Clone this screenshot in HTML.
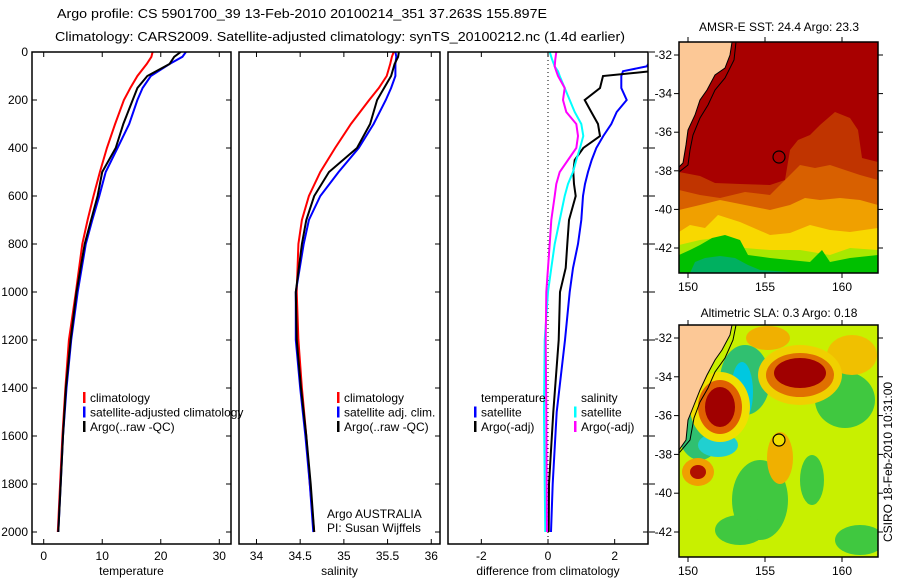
<!DOCTYPE html>
<html><head><meta charset="utf-8"><style>
html,body{margin:0;padding:0;background:#fff;}
svg{display:block;font-family:"Liberation Sans",sans-serif;}
</style></head><body>
<svg id="fig" width="900" height="580" viewBox="0 0 900 580" xmlns="http://www.w3.org/2000/svg">
<text x="302" y="18" font-size="13" text-anchor="middle" textLength="490" lengthAdjust="spacingAndGlyphs">Argo profile: CS 5901700_39 13-Feb-2010 20100214_351 37.263S 155.897E</text>
<text x="340" y="41" font-size="13" text-anchor="middle" textLength="570" lengthAdjust="spacingAndGlyphs">Climatology: CARS2009. Satellite-adjusted climatology: synTS_20100212.nc (1.4d earlier)</text>
<g id="panels"></g>

<!-- SST map -->
<text x="779" y="31" font-size="12" text-anchor="middle">AMSR-E SST: 24.4 Argo: 23.3</text>
<defs>
<clipPath id="cm1"><rect x="679" y="42" width="199" height="231"/></clipPath>
<clipPath id="cm2"><rect x="679" y="325" width="199" height="232"/></clipPath>
</defs>
<g clip-path="url(#cm1)">
<rect x="679" y="42" width="199" height="231" fill="#a80000"/>
<path d="M679,172 L700,176 L715,183 L740,184 L770,185 L785,180 L790,150 L798,140 L810,135 L820,125 L835,112 L850,118 L858,130 L862,158 L878,162 L878,273 L679,273Z" fill="#c03400"/>
<path d="M679,190 L700,195 L720,198 L745,192 L770,195 L790,175 L800,165 L815,168 L830,165 L845,170 L860,175 L878,180 L878,273 L679,273Z" fill="#d86000"/>
<path d="M679,210 L700,205 L720,200 L745,205 L770,210 L790,205 L805,198 L820,200 L840,198 L860,200 L878,205 L878,273 L679,273Z" fill="#f0a000"/>
<path d="M679,232 L690,225 L705,228 L718,215 L740,222 L770,235 L790,233 L810,225 L830,230 L850,232 L878,228 L878,273 L679,273Z" fill="#f8d800"/>
<path d="M679,245 L700,240 L715,238 L730,240 L745,248 L770,250 L800,250 L830,255 L850,248 L878,250 L878,273 L679,273Z" fill="#a8e800"/>
<path d="M679,255 L690,250 L700,245 L712,238 L725,235 L740,240 L748,255 L770,258 L790,260 L810,262 L822,250 L830,262 L850,258 L878,255 L878,273 L679,273Z" fill="#00c000"/>
<path d="M690,273 L695,262 L705,258 L720,256 L735,258 L748,265 L760,270 L790,272 L790,273Z" fill="#00b060"/>
<path d="M679,42 L732,42 L730,55 L725,68 L715,75 L707,90 L700,100 L695,115 L688,130 L686,145 L683,163 L679,167Z" fill="#fcc896" stroke="#000" stroke-width="1"/>
<path d="M736,42 L734,60 L725,78 L715,90 L708,105 L700,118 L693,135 L690,150 L688,165 L679,172" fill="none" stroke="#000" stroke-width="1"/>
<circle cx="779" cy="157" r="6" fill="none" stroke="#000" stroke-width="1.2"/>
</g>
<rect x="679" y="42" width="199" height="231" fill="none" stroke="#000" stroke-width="1.5"/>
<g id="map1axes"></g>

<!-- SLA map -->
<text x="779" y="317" font-size="12" text-anchor="middle">Altimetric SLA: 0.3 Argo: 0.18</text>
<g clip-path="url(#cm2)">
<rect x="679" y="325" width="199" height="232" fill="#c8f000"/>
<ellipse cx="845" cy="400" rx="30" ry="28" fill="#40c840"/>
<ellipse cx="760" cy="500" rx="28" ry="40" fill="#40c840"/>
<ellipse cx="740" cy="530" rx="25" ry="15" fill="#40c840"/>
<ellipse cx="812" cy="480" rx="12" ry="25" fill="#40c840"/>
<ellipse cx="860" cy="540" rx="25" ry="15" fill="#40c840"/>
<ellipse cx="700" cy="430" rx="22" ry="30" fill="#30c070"/>
<ellipse cx="745" cy="380" rx="25" ry="35" fill="#30c070"/>
<ellipse cx="742" cy="392" rx="11" ry="30" fill="#00c8e0"/>
<ellipse cx="718" cy="445" rx="20" ry="12" fill="#20d0d0"/>
<ellipse cx="768" cy="338" rx="22" ry="12" fill="#f0b000"/>
<ellipse cx="852" cy="355" rx="25" ry="20" fill="#f0c000"/>
<ellipse cx="800" cy="375" rx="42" ry="30" fill="#f0d000"/>
<ellipse cx="800" cy="375" rx="34" ry="22" fill="#e07000"/>
<ellipse cx="800" cy="373" rx="26" ry="15" fill="#a00000"/>
<ellipse cx="720" cy="407" rx="30" ry="35" fill="#f0e000"/>
<ellipse cx="720" cy="407" rx="22" ry="27" fill="#e06000"/>
<ellipse cx="720" cy="407" rx="15" ry="20" fill="#a00000"/>
<ellipse cx="780" cy="458" rx="13" ry="26" fill="#f0b000"/>
<ellipse cx="698" cy="472" rx="16" ry="14" fill="#f0a000"/>
<ellipse cx="698" cy="472" rx="8" ry="7" fill="#b01000"/>
<path d="M679,325 L732,325 L730,335 L722,350 L715,360 L707,375 L700,390 L694,405 L688,420 L686,440 L679,450Z" fill="#fcc896" stroke="#000" stroke-width="1"/>
<path d="M736,325 L733,340 L725,358 L715,372 L708,388 L700,402 L694,418 L690,440 L679,453" fill="none" stroke="#000" stroke-width="1"/>
<circle cx="779" cy="440" r="6" fill="#f0e000" stroke="#000" stroke-width="1.2"/>
</g>
<rect x="679" y="325" width="199" height="232" fill="none" stroke="#000" stroke-width="1.5"/>
<g id="map2axes"></g>
<text transform="translate(892,462) rotate(-90)" font-size="12" text-anchor="middle">CSIRO 18-Feb-2010 10:31:00</text>
</svg>
<script>
// ---- data (depth in m, value) ----
const depths=[0,20,50,100,150,200,300,400,500,600,700,800,1000,1200,1400,1600,1800,2000];
const tempClim=[18.6,18.4,17.6,16.0,14.8,13.7,12.2,10.8,9.6,8.5,7.5,6.6,5.5,4.3,3.7,3.2,2.8,2.4];
const tempSat=[24.3,23.7,21.5,18.3,16.9,16.0,14.6,12.6,10.6,9.5,8.3,7.2,5.8,4.7,3.9,3.3,2.9,2.5];
const tempArgo=[23.4,22.3,21.5,17.7,16.0,15.2,13.6,12.3,10.0,9.2,8.1,7.0,5.6,4.6,3.8,3.3,2.9,2.5];
const salClim=[35.57,35.55,35.53,35.49,35.40,35.29,35.08,34.90,34.73,34.60,34.52,34.48,34.46,34.48,34.52,34.57,34.61,34.66];
const salSat=[35.59,35.60,35.59,35.59,35.54,35.48,35.34,35.17,34.94,34.73,34.60,34.54,34.45,34.45,34.50,34.56,34.61,34.65];
const salArgo=[35.63,35.62,35.58,35.54,35.46,35.38,35.30,35.15,34.83,34.66,34.57,34.52,34.45,34.46,34.51,34.57,34.62,34.66];
const diffDepths=[0,30,60,80,100,150,200,250,300,350,400,450,500,550,600,700,800,900,1000,1200,1500,1800,2000];
const dTempSat=[3.2,3.1,2.96,2.25,2.2,2.2,2.36,2.06,1.9,1.66,1.45,1.31,1.2,1.11,1.05,1.0,0.9,0.75,0.65,0.51,0.26,0.14,0.09];
const dTempArgo=[3.2,3.2,3.1,3.1,1.65,1.56,1.1,1.3,1.5,1.56,1.06,0.8,0.76,0.78,0.83,0.63,0.58,0.53,0.36,0.32,0.16,0.03,0.02];
const dSalSat=[0.05,0.12,0.2,0.3,0.35,0.5,0.65,0.8,1.0,1.06,0.96,0.85,0.75,0.6,0.5,0.35,0.2,0.1,0.0,-0.1,-0.12,-0.1,-0.08];
const dSalArgo=[0.25,0.22,0.2,0.25,0.3,0.5,0.45,0.55,0.85,0.9,0.85,0.6,0.35,0.25,0.2,0.1,0.05,0.0,-0.05,-0.07,-0.05,-0.04,-0.03];
const depthTicks=[0,200,400,600,800,1000,1200,1400,1600,1800,2000];
const tempTicks=[0,10,20,30];
const salTicks=[34,34.5,35,35.5,36];
const diffTicks=[-2,0,2];
const lonTicks=[150,155,160];
const latTicks=[-32,-34,-36,-38,-40,-42];

const NS='http://www.w3.org/2000/svg';
const TOP=52,BOT=544,DMAX=2050;
function yD(d){return TOP+d*(BOT-TOP)/DMAX;}
function mk(tag,attrs,parent){const e=document.createElementNS(NS,tag);for(const k in attrs)e.setAttribute(k,attrs[k]);parent.appendChild(e);return e;}
const root=document.getElementById('panels');

function panel(name,x0,x1,vmin,vmax,ticks,fmt,xlabel,series,yLabels,zeroLine){
  const g=mk('g',{},root);
  
  
  const xs=v=>x0+(v-vmin)*(x1-x0)/(vmax-vmin);
  const cp=mk('clipPath',{id:'cp-'+name},g);mk('rect',{x:x0,y:TOP,width:x1-x0,height:BOT-TOP},cp);
  const lg=mk('g',{'clip-path':'url(#cp-'+name+')'},g);
  if(zeroLine){const z=mk('line',{x1:xs(0),x2:xs(0),y1:TOP,y2:BOT,stroke:'#000','stroke-width':1,'stroke-dasharray':'1,3'},lg);
    
    }
  series.forEach(s=>{
    const pts=s.vals.map((v,i)=>xs(v).toFixed(1)+','+yD(s.d[i]).toFixed(1)).join(' ');
    const p=mk('polyline',{points:pts,fill:'none',stroke:s.color,'stroke-width':2},lg);
    
    
  });
  const fr=mk('rect',{x:x0,y:TOP,width:x1-x0,height:BOT-TOP,fill:'none',stroke:'#000','stroke-width':1.5},g);
  
  
  ticks.forEach(t=>{
    const x=xs(t);
    mk('line',{x1:x,x2:x,y1:TOP,y2:TOP+5,stroke:'#000'},g);
    mk('line',{x1:x,x2:x,y1:BOT,y2:BOT-5,stroke:'#000'},g);
    const tx=mk('text',{x:x,y:BOT+16,'font-size':12,'text-anchor':'middle'},g);tx.textContent=fmt(t);
    
    
  });
  depthTicks.forEach(d=>{
    const y=yD(d);
    mk('line',{x1:x1,x2:x1-5,y1:y,y2:y,stroke:'#000'},g);
    if(yLabels){mk('line',{x1:x0,x2:x0+5,y1:y,y2:y,stroke:'#000'},g);
      const t=mk('text',{x:x0-4,y:y+4,'font-size':12,'text-anchor':'end'},g);t.textContent=d;
      
      }
  });
  const xl=mk('text',{x:(x0+x1)/2,y:BOT+31,'font-size':12,'text-anchor':'middle'},g);xl.textContent=xlabel;
  
  
}
panel('temperature',32,231,-2,32,tempTicks,t=>t,'temperature',[
 {name:'temp-climatology-line',vals:tempClim,d:depths,color:'#f00'},
 {name:'temp-satellite-line',vals:tempSat,d:depths,color:'#00f'},
 {name:'temp-argo-line',vals:tempArgo,d:depths,color:'#000'}],true,false);
panel('salinity',239,440,33.8,36.1,salTicks,t=>t,'salinity',[
 {name:'sal-climatology-line',vals:salClim,d:depths,color:'#f00'},
 {name:'sal-satellite-line',vals:salSat,d:depths,color:'#00f'},
 {name:'sal-argo-line',vals:salArgo,d:depths,color:'#000'}],false,false);
panel('difference',448,648,-3,3,diffTicks,t=>t,'difference from climatology',[
 {name:'dtemp-satellite-line',vals:dTempSat,d:diffDepths,color:'#00f'},
 {name:'dtemp-argo-line',vals:dTempArgo,d:diffDepths,color:'#000'},
 {name:'dsal-satellite-line',vals:dSalSat,d:diffDepths,color:'#0ff'},
 {name:'dsal-argo-line',vals:dSalArgo,d:diffDepths,color:'#f0f'}],false,true);
depthTicks.forEach(d=>{mk('line',{x1:649,x2:655,y1:yD(d),y2:yD(d),stroke:'#000'},root);});

function legend(x,y,items){
  items.forEach((it,i)=>{
    const yy=y+i*14.5;
    if(it.color){const m=mk('rect',{x:x,y:yy-10,width:2.5,height:11,fill:it.color},root);
      
      }
    const t=mk('text',{x:x+7,y:yy,'font-size':12},root);t.textContent=it.label;
    
    
  });
}
legend(83,402,[{color:'#f00',label:'climatology'},{color:'#00f',label:'satellite-adjusted climatology'},{color:'#000',label:'Argo(..raw -QC)'}]);
legend(337,402,[{color:'#f00',label:'climatology'},{color:'#00f',label:'satellite adj. clim.'},{color:'#000',label:'Argo(..raw -QC)'}]);
legend(474,402,[{label:'temperature'},{color:'#00f',label:'satellite'},{color:'#000',label:'Argo(-adj)'}]);
legend(574,402,[{label:'salinity'},{color:'#0ff',label:'satellite'},{color:'#f0f',label:'Argo(-adj)'}]);
const a1=mk('text',{x:327,y:518,'font-size':12},root);a1.textContent='Argo AUSTRALIA';


const a2=mk('text',{x:327,y:532,'font-size':12},root);a2.textContent='PI: Susan Wijffels';



function mapAxes(id,top,bottom,lat32,lat42){
  const g=document.getElementById(id);
  const lx=lon=>688+(lon-150)*15.4;
  const ly=lat=>lat32+(-32-lat)*(lat42-lat32)/10;
  lonTicks.forEach(l=>{
    mk('line',{x1:lx(l),x2:lx(l),y1:top,y2:top-5,stroke:'#000'},g);
    mk('line',{x1:lx(l),x2:lx(l),y1:bottom,y2:bottom+5,stroke:'#000'},g);
    const t=mk('text',{x:lx(l),y:bottom+18,'font-size':12,'text-anchor':'middle'},g);t.textContent=l;
    
    
  });
  latTicks.forEach(l=>{
    mk('line',{x1:679,x2:674,y1:ly(l),y2:ly(l),stroke:'#000'},g);
    mk('line',{x1:878,x2:883,y1:ly(l),y2:ly(l),stroke:'#000'},g);
    const t=mk('text',{x:672,y:ly(l)+4,'font-size':12,'text-anchor':'end'},g);t.textContent=l;
    
    
  });
}
mapAxes('map1axes',42,273,55,248);
mapAxes('map2axes',325,557,338,532);
</script>
</body></html>
